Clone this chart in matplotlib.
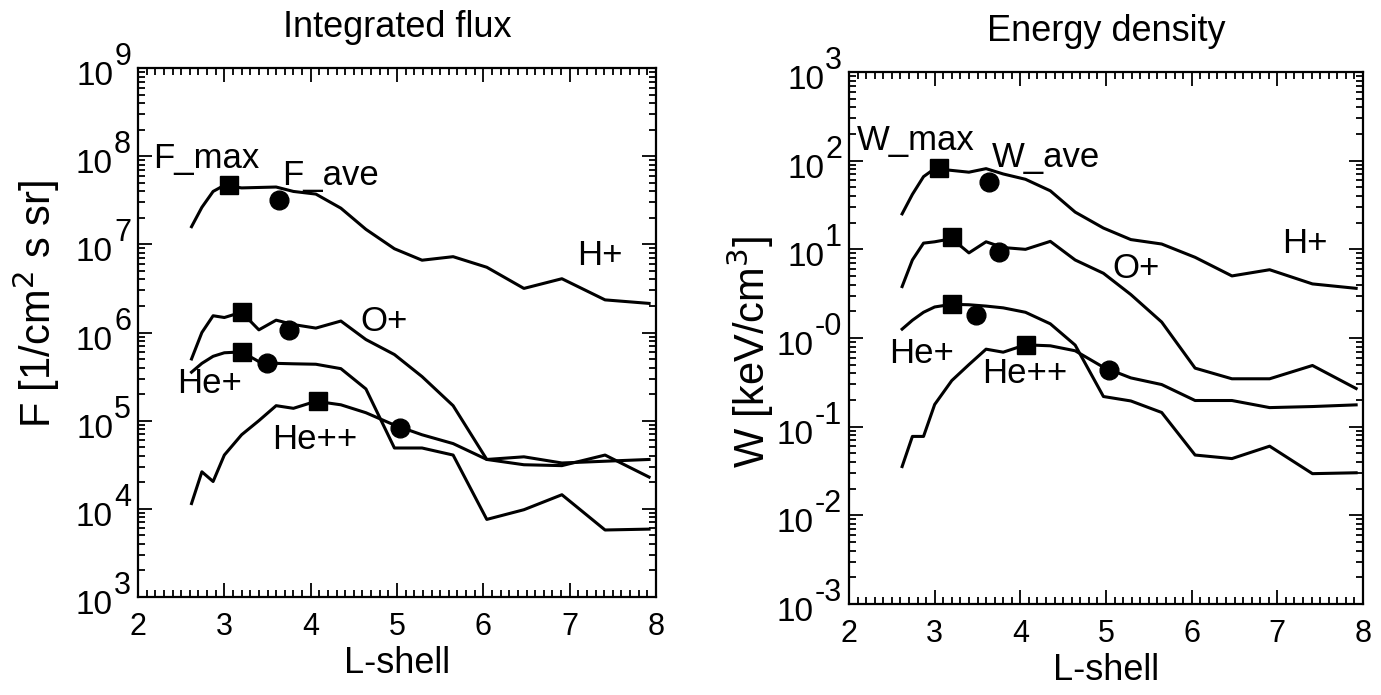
import numpy as np
import matplotlib.pyplot as plt
from matplotlib.ticker import FixedLocator, NullFormatter, MultipleLocator

plt.rcParams['font.family'] = ['Liberation Sans', 'DejaVu Sans']

# L-shell grid shared by all profiles
lshell = [2.62, 2.74, 2.87, 3.0, 3.2, 3.4, 3.6, 3.8, 4.06, 4.35,
          4.64, 4.97, 5.29, 5.65, 6.04, 6.47, 6.91, 7.41, 7.92]

# log10 integrated flux [1/cm2 s sr]
logF_h = [7.20, 7.42, 7.60, 7.67, 7.64, 7.645, 7.65, 7.60, 7.57, 7.41,
          7.17, 6.95, 6.82, 6.86, 6.74, 6.50, 6.61, 6.37, 6.33]
logF_o = [5.70, 6.00, 6.19, 6.17, 6.23, 6.03, 6.14, 6.09, 6.05, 6.13,
          5.92, 5.75, 5.50, 5.17, 4.56, 4.50, 4.49, 4.61, 4.36]
logF_he1 = [5.55, 5.65, 5.73, 5.77, 5.78, 5.67, 5.65, 5.645, 5.64, 5.59,
            5.36, 4.69, 4.69, 4.61, 3.88, 3.99, 4.16, 3.76, 3.77]
logF_he2 = [4.06, 4.42, 4.31, 4.61, 4.84, 5.00, 5.17, 5.14, 5.22, 5.18,
            5.09, 4.95, 4.84, 4.74, 4.56, 4.59, 4.52, 4.54, 4.56]

# log10 energy density [keV/cm3]
logW_h = [1.40, 1.62, 1.82, 1.91, 1.89, 1.87, 1.91, 1.85, 1.79, 1.66,
          1.42, 1.24, 1.11, 1.06, 0.91, 0.70, 0.77, 0.61, 0.56]
logW_o = [0.58, 0.88, 1.07, 1.085, 1.12, 0.96, 1.085, 1.02, 1.00, 1.09,
          0.88, 0.73, 0.49, 0.18, -0.34, -0.46, -0.46, -0.31, -0.57]
logW_he1 = [0.10, 0.20, 0.29, 0.35, 0.38, 0.375, 0.36, 0.34, 0.29, 0.16,
            -0.08, -0.66, -0.71, -0.84, -1.32, -1.36, -1.22, -1.53, -1.52]
logW_he2 = [-1.45, -1.11, -1.11, -0.75, -0.48, -0.30, -0.126, -0.16, -0.077, -0.088,
            -0.144, -0.33, -0.45, -0.525, -0.705, -0.705, -0.785, -0.773, -0.754]

# maximum (square) and average (circle) markers: H+, O+, He+, He++
fmax_l = [3.05, 3.2, 3.2, 4.08]
fmax_log = [7.67, 6.23, 5.78, 5.22]
fave_l = [3.63, 3.75, 3.49, 5.04]
fave_log = [7.50, 6.03, 5.65, 4.92]

wmax_l = [3.05, 3.2, 3.2, 4.07]
wmax_log = [1.915, 1.14, 0.381, -0.077]
wave_l = [3.63, 3.75, 3.48, 5.04]
wave_log = [1.755, 0.97, 0.263, -0.365]

species = ['H+', 'O+', 'He+', 'He++']
# label anchors (L, log10 value at baseline)
flux_lab_l = [7.09, 4.57, 2.455, 3.55]
flux_lab_log = [6.767, 6.015, 5.316, 4.683]
wden_lab_l = [7.06, 5.07, 2.47, 3.55]
wden_lab_log = [0.963, 0.678, -0.278, -0.506]

fig = plt.figure(figsize=(13.81, 6.95), dpi=100)
ax1 = fig.add_axes([138 / 1381, 1 - 597 / 695, 518 / 1381, 529 / 695])
ax2 = fig.add_axes([849 / 1381, 1 - 604 / 695, 514 / 1381, 532 / 695])


def draw_panel(ax, profiles, mx_l, mx_log, av_l, av_log, lab_l, lab_log,
               ylo, yhi, title, tags, tag_pos):
    for p in profiles:
        ax.plot(lshell, 10.0 ** np.array(p), color='black', lw=2.2)
    ax.plot(mx_l, 10.0 ** np.array(mx_log), 's', color='black', ms=13, ls='none')
    ax.plot(av_l, 10.0 ** np.array(av_log), 'o', color='black', ms=13.5, ls='none')
    for name, x, y in zip(species, lab_l, lab_log):
        ax.text(x, 10.0 ** y, name, fontsize=25, va='baseline', ha='left')
    for t, (x, y) in zip(tags, tag_pos):
        ax.text(x, 10.0 ** y, t, fontsize=25, va='baseline', ha='left')

    ax.set_yscale('log')
    ax.set_xlim(2, 8)
    ax.set_ylim(10.0 ** ylo, 10.0 ** yhi)
    ax.xaxis.set_major_locator(MultipleLocator(1))
    ax.xaxis.set_minor_locator(MultipleLocator(0.1))
    decades = np.arange(ylo, yhi + 1)
    ax.yaxis.set_major_locator(FixedLocator(10.0 ** decades))
    minors = [m * 10.0 ** d for d in decades[:-1] for m in range(2, 10)]
    ax.yaxis.set_minor_locator(FixedLocator(minors))
    ax.yaxis.set_major_formatter(NullFormatter())
    ax.yaxis.set_minor_formatter(NullFormatter())
    ax.tick_params(which='both', direction='in', top=True, right=True, width=1.3)
    ax.tick_params(which='major', length=10)
    ax.tick_params(which='minor', length=5)
    ax.tick_params(axis='x', labelsize=22, pad=11)
    for s in ax.spines.values():
        s.set_linewidth(1.6)
    ax.set_title(title, fontsize=26, pad=22)
    ax.set_xlabel('L-shell', fontsize=26, labelpad=3)
    return decades


def power_labels(ax, decades, zero_label='0'):
    fig.canvas.draw()
    r = fig.canvas.get_renderer()
    for d in decades:
        e = str(int(d)) if d != 0 else zero_label
        t = ax.annotate(e, xy=(0, 10.0 ** d), xycoords=('axes fraction', 'data'),
                        xytext=(-7, 3), textcoords='offset pixels',
                        ha='right', va='baseline', fontsize=22)
        w = t.get_window_extent(r).width
        ax.annotate('10', xy=(0, 10.0 ** d), xycoords=('axes fraction', 'data'),
                    xytext=(-8 - w, -17), textcoords='offset pixels',
                    ha='right', va='baseline', fontsize=24)


dec1 = draw_panel(ax1, [logF_h, logF_o, logF_he1, logF_he2],
                  fmax_l, fmax_log, fave_l, fave_log, flux_lab_l, flux_lab_log,
                  3, 9, 'Integrated flux',
                  ['F_max', 'F_ave'], [(2.17, 7.864), (3.67, 7.67)])
dec2 = draw_panel(ax2, [logW_h, logW_o, logW_he1, logW_he2],
                  wmax_l, wmax_log, wave_l, wave_log, wden_lab_l, wden_lab_log,
                  -3, 3, 'Energy density',
                  ['W_max', 'W_ave'], [(2.093, 2.124), (3.67, 1.933)])

fig.text(11 / 1381, 1 - 304 / 695, r'F [1/cm$^2$ s sr]', rotation=90,
         fontsize=30, ha='left', va='center')
fig.text(724 / 1381, 1 - 352 / 695, r'W [keV/cm$^3$]', rotation=90,
         fontsize=30, ha='left', va='center')

power_labels(ax1, dec1)
power_labels(ax2, dec2, zero_label='-0')

fig.savefig('out.png', dpi=100)
